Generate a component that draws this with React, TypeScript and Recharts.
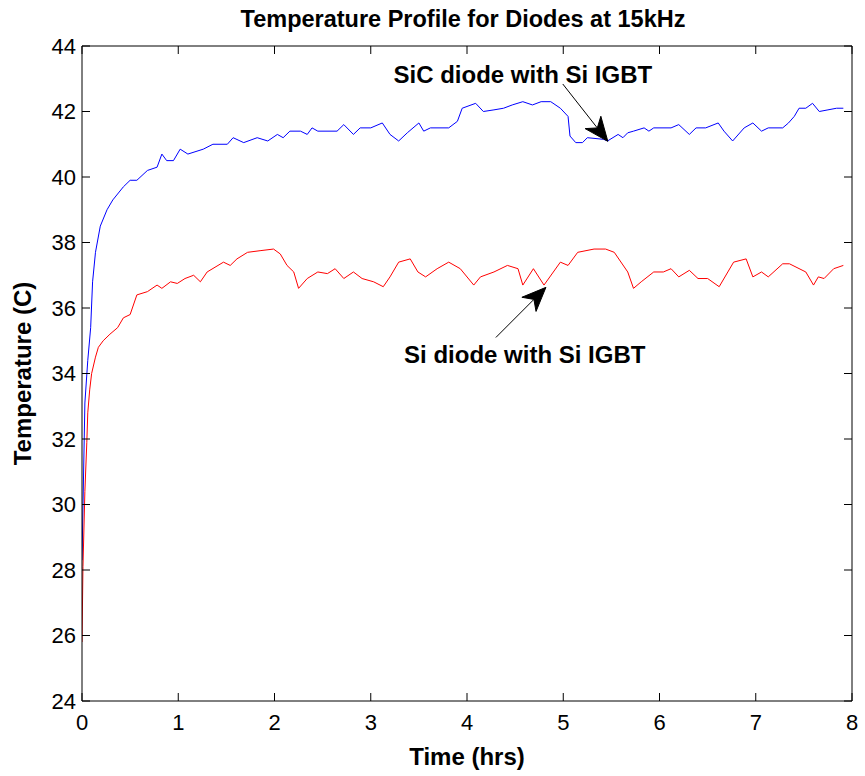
import React from 'react';
import { LineChart, Line, XAxis, YAxis, ReferenceLine, ReferenceDot, Label } from 'recharts';

const FONT = '"Liberation Sans", Arial, Helvetica, sans-serif';

// SiC diode with Si IGBT (blue)
const sicTime = [0, 0.03, 0.06, 0.09, 0.11, 0.14, 0.19, 0.26, 0.32, 0.43, 0.5, 0.57, 0.68, 0.78, 0.83, 0.88, 0.95, 1.02, 1.1, 1.26, 1.36, 1.51, 1.57, 1.68, 1.82, 1.93, 2.03, 2.09, 2.16, 2.27, 2.34, 2.39, 2.45, 2.65, 2.72, 2.82, 2.89, 3.0, 3.12, 3.2, 3.29, 3.38, 3.5, 3.55, 3.62, 3.81, 3.9, 3.95, 4.09, 4.17, 4.28, 4.38, 4.47, 4.58, 4.68, 4.77, 4.87, 4.97, 5.05, 5.07, 5.13, 5.2, 5.25, 5.42, 5.46, 5.57, 5.62, 5.67, 5.73, 5.84, 5.89, 5.94, 6.12, 6.2, 6.31, 6.38, 6.48, 6.61, 6.67, 6.76, 6.88, 6.97, 7.06, 7.13, 7.28, 7.34, 7.4, 7.45, 7.52, 7.59, 7.66, 7.75, 7.84, 7.91];
const sicTemp = [28.3, 33.1, 34.4, 35.4, 36.8, 37.7, 38.5, 39.0, 39.3, 39.7, 39.9, 39.9, 40.2, 40.3, 40.7, 40.5, 40.5, 40.85, 40.7, 40.85, 41.0, 41.0, 41.2, 41.05, 41.2, 41.1, 41.3, 41.2, 41.4, 41.4, 41.3, 41.5, 41.4, 41.4, 41.6, 41.3, 41.5, 41.5, 41.65, 41.3, 41.1, 41.35, 41.65, 41.4, 41.5, 41.5, 41.7, 42.1, 42.25, 42.0, 42.05, 42.1, 42.2, 42.3, 42.2, 42.3, 42.3, 42.1, 41.85, 41.25, 41.05, 41.05, 41.2, 41.15, 41.1, 41.3, 41.2, 41.35, 41.4, 41.5, 41.4, 41.5, 41.5, 41.6, 41.3, 41.5, 41.5, 41.65, 41.4, 41.1, 41.5, 41.65, 41.4, 41.5, 41.5, 41.65, 41.85, 42.1, 42.1, 42.25, 42.0, 42.05, 42.1, 42.1];

// Si diode with Si IGBT (red)
const siTime = [0, 0.01, 0.03, 0.05, 0.06, 0.08, 0.1, 0.14, 0.17, 0.22, 0.29, 0.37, 0.43, 0.5, 0.57, 0.68, 0.78, 0.83, 0.92, 0.99, 1.07, 1.16, 1.23, 1.3, 1.47, 1.54, 1.61, 1.72, 1.85, 1.99, 2.06, 2.13, 2.2, 2.25, 2.34, 2.45, 2.55, 2.63, 2.72, 2.82, 2.91, 3.03, 3.13, 3.2, 3.29, 3.41, 3.49, 3.57, 3.69, 3.81, 3.93, 4.07, 4.14, 4.28, 4.42, 4.53, 4.58, 4.69, 4.8, 4.97, 5.05, 5.15, 5.32, 5.44, 5.53, 5.67, 5.73, 5.81, 5.94, 6.04, 6.12, 6.2, 6.31, 6.4, 6.5, 6.62, 6.71, 6.77, 6.9, 6.97, 7.06, 7.13, 7.28, 7.35, 7.52, 7.6, 7.65, 7.71, 7.81, 7.91];
const siTemp = [25.8, 28.1, 30.4, 31.9, 32.8, 33.5, 34.0, 34.5, 34.8, 35.0, 35.2, 35.4, 35.7, 35.8, 36.4, 36.5, 36.7, 36.6, 36.8, 36.75, 36.9, 37.0, 36.8, 37.1, 37.4, 37.3, 37.5, 37.7, 37.75, 37.8, 37.65, 37.3, 37.1, 36.6, 36.9, 37.1, 37.05, 37.2, 36.9, 37.1, 36.9, 36.8, 36.65, 36.95, 37.4, 37.5, 37.1, 36.95, 37.2, 37.4, 37.2, 36.7, 36.95, 37.1, 37.3, 37.2, 36.7, 37.2, 36.7, 37.4, 37.3, 37.7, 37.8, 37.8, 37.7, 37.1, 36.6, 36.8, 37.1, 37.1, 37.2, 36.95, 37.15, 36.9, 36.9, 36.65, 37.1, 37.4, 37.5, 36.95, 37.1, 36.95, 37.35, 37.35, 37.1, 36.7, 36.95, 36.9, 37.2, 37.3];

const xTicks = [0, 1, 2, 3, 4, 5, 6, 7, 8];
const yTicks = [24, 26, 28, 30, 32, 34, 36, 38, 40, 42, 44];

// annotation text + arrows: [x, y] in data units
const sicLabel = { text: 'SiC diode with Si IGBT', at: [4.58, 42.87] };
const sicArrow = [[4.995, 42.84], [5.463, 41.09]];
const siLabel = { text: 'Si diode with Si IGBT', at: [4.6, 34.31] };
const siArrow = [[4.3, 35.1], [4.82, 36.63]];

const sicData = sicTime.map((t, i) => ({ t, v: sicTemp[i] }));
const siData = siTime.map((t, i) => ({ t, v: siTemp[i] }));

function Arrow(p: any) {
  const { x1, y1, x2, y2 } = p;
  const dx = x2 - x1, dy = y2 - y1;
  const len = Math.hypot(dx, dy) || 1;
  const ux = dx / len, uy = dy / len;
  const px = -uy, py = ux;
  const L = 24, W = 10, N = 17;
  const bx = x2 - ux * L, by = y2 - uy * L;
  const nx = x2 - ux * N, ny = y2 - uy * N;
  const pts = `${x2},${y2} ${bx + px * W},${by + py * W} ${nx},${ny} ${bx - px * W},${by - py * W}`;
  return (
    <g>
      <line x1={x1} y1={y1} x2={nx} y2={ny} stroke="#000" strokeWidth={1} />
      <polygon points={pts} fill="#000" stroke="#000" strokeWidth={1} />
    </g>
  );
}

const labelShape = (text: string) => (p: any) => (
  <text x={p.cx} y={p.cy} textAnchor="middle" fontFamily={FONT} fontSize={24} fontWeight="bold" fill="#000">
    {text}
  </text>
);

// tick marks only, no text (top / right frame)
const NoText = () => <g />;

const tickStyle = { fontSize: 22, fill: '#000', fontFamily: FONT };
const frame = { stroke: '#000', strokeWidth: 1 };

export default function App() {
  return (
    <div style={{ position: 'absolute', left: 0, top: 0, width: 865, height: 776, background: '#fff', fontFamily: FONT }}>
      <div style={{ position: 'absolute', left: 463, top: 7, transform: 'translateX(-50%)', whiteSpace: 'nowrap', fontSize: 23.5, lineHeight: '24px', fontWeight: 'bold' }}>
        Temperature Profile for Diodes at 15kHz
      </div>
      <LineChart width={865} height={776} margin={{ top: 46, right: 13, bottom: 74, left: 81 }}>
        {/* negative tickSize: ticks point into the plot, like the matlab box */}
        <XAxis xAxisId={0} type="number" dataKey="t" domain={[0, 8]} ticks={xTicks} allowDataOverflow
          height={1} tickLine={frame} tickSize={-8} tickMargin={21} tick={tickStyle} axisLine={frame}>
          <Label value="Time (hrs)" position="bottom" offset={46}
            style={{ fontSize: 24, fontWeight: 'bold', fill: '#000', fontFamily: FONT }} />
        </XAxis>
        <XAxis xAxisId="top" type="number" dataKey="t" domain={[0, 8]} ticks={xTicks} orientation="top" mirror allowDataOverflow
          height={1} tick={NoText} tickSize={8} tickLine={frame} axisLine={frame} />
        <YAxis yAxisId={0} type="number" domain={[24, 44]} ticks={yTicks} allowDataOverflow
          width={1} tickLine={frame} tickSize={-8} tickMargin={14} tick={tickStyle} axisLine={frame}>
          <Label value="Temperature (C)" angle={-90} position="left" offset={59}
            style={{ fontSize: 24, fontWeight: 'bold', fill: '#000', fontFamily: FONT, textAnchor: 'middle' }} />
        </YAxis>
        <YAxis yAxisId="right" type="number" domain={[24, 44]} ticks={yTicks} orientation="right" mirror allowDataOverflow
          width={1} tick={NoText} tickSize={8} tickLine={frame} axisLine={frame} />

        <Line data={sicData} dataKey="v" xAxisId="top" yAxisId="right" type="linear" stroke="#0000FF" strokeWidth={1} dot={false} isAnimationActive={false} />
        <Line data={siData} dataKey="v" type="linear" stroke="#FF0000" strokeWidth={1} dot={false} isAnimationActive={false} />

        <ReferenceLine segment={[{ x: sicArrow[0][0], y: sicArrow[0][1] }, { x: sicArrow[1][0], y: sicArrow[1][1] }]} shape={Arrow} />
        <ReferenceLine segment={[{ x: siArrow[0][0], y: siArrow[0][1] }, { x: siArrow[1][0], y: siArrow[1][1] }]} shape={Arrow} />
        <ReferenceDot x={sicLabel.at[0]} y={sicLabel.at[1]} r={0} shape={labelShape(sicLabel.text)} />
        <ReferenceDot x={siLabel.at[0]} y={siLabel.at[1]} r={0} shape={labelShape(siLabel.text)} />
      </LineChart>
    </div>
  );
}
